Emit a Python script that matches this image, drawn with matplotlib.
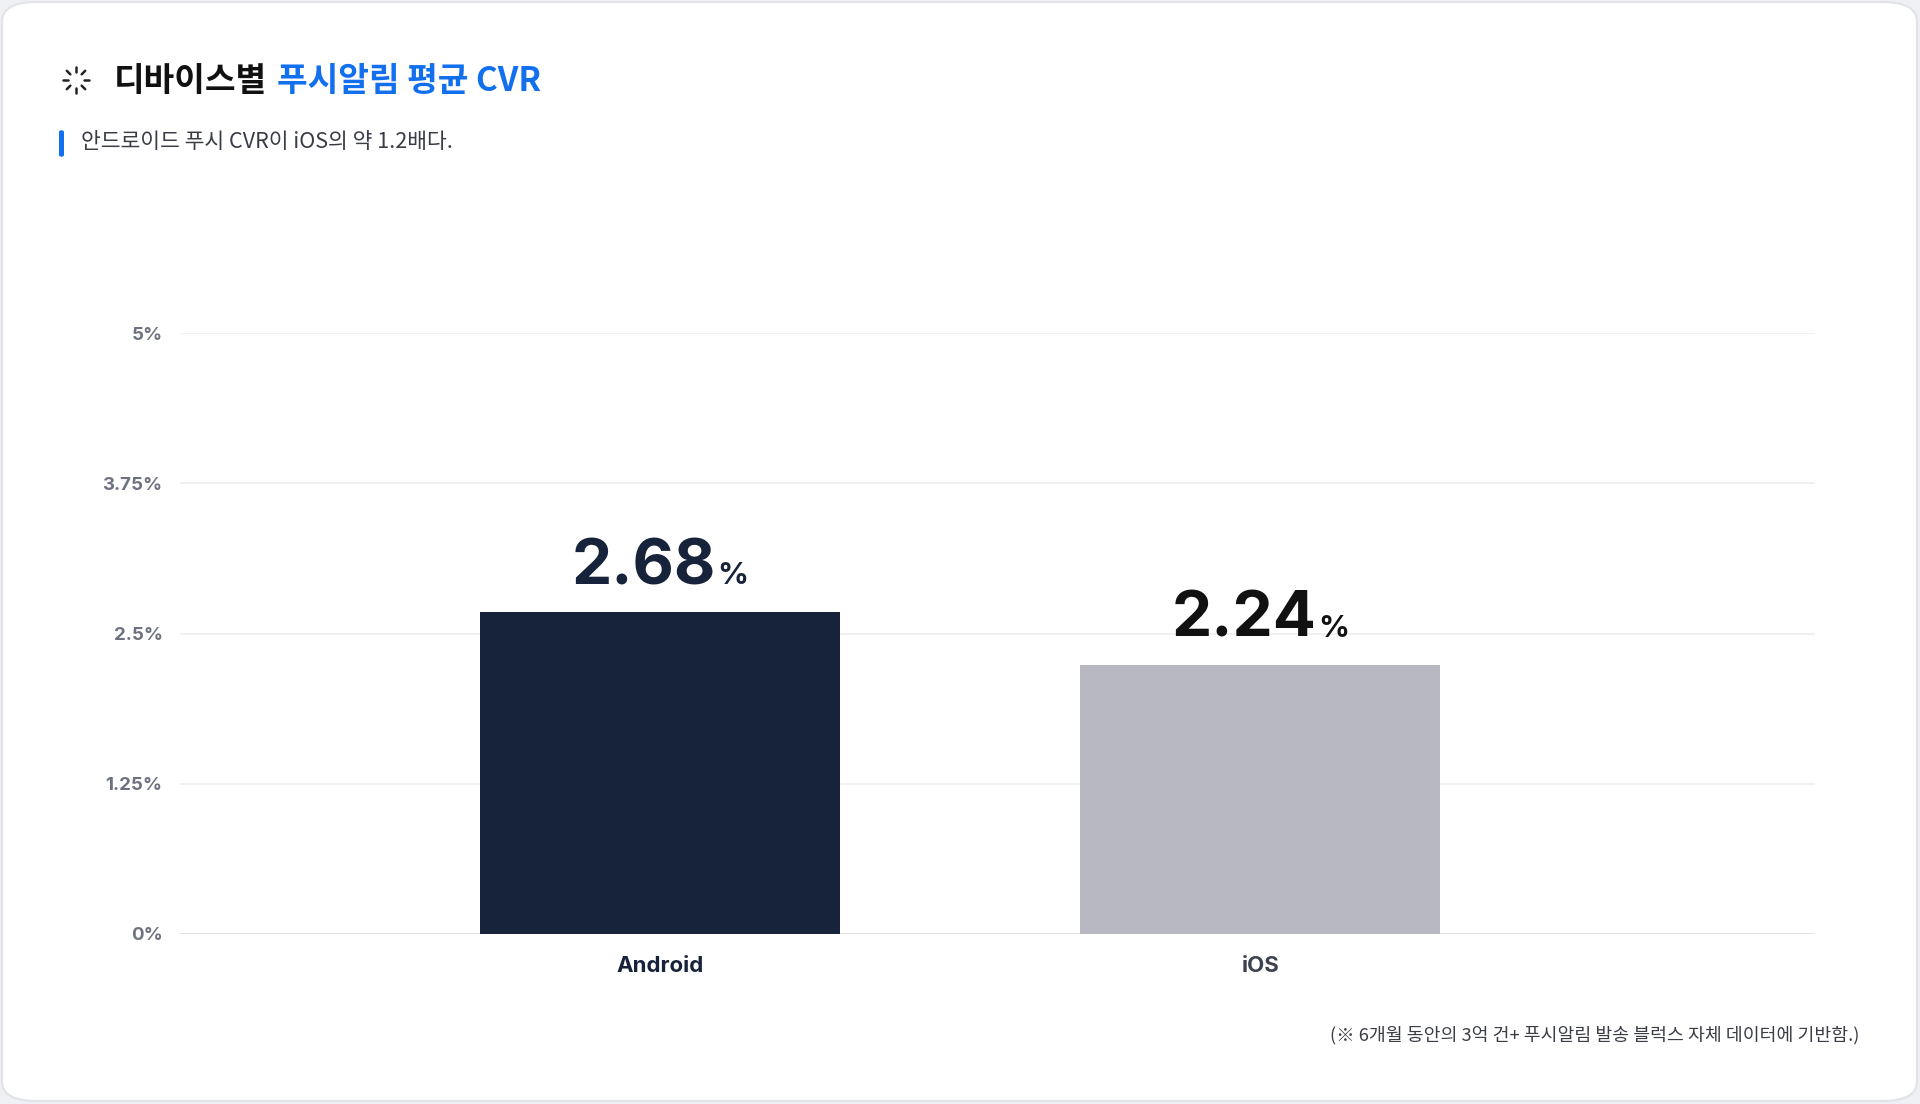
import numpy as np
import matplotlib.pyplot as plt
from matplotlib.patches import FancyBboxPatch
from matplotlib.lines import Line2D

# data
devices = ["Android", "iOS"]
cvr = [2.68, 2.24]
yticks = [0, 1.25, 2.5, 3.75, 5]
ytick_labels = ["0%", "1.25%", "2.5%", "3.75%", "5%"]

title_black = "디바이스별"
title_blue = "푸시알림 평균 CVR"
subtitle = "안드로이드 푸시 CVR이 iOS의 약 1.2배다."
footnote = "(※ 6개월 동안의 3억 건+ 푸시알림 발송 블럭스 자체 데이터에 기반함.)"

KR = ["Noto Sans CJK KR", "DejaVu Sans"]
NUM = ["Inter", "DejaVu Sans"]
plt.rcParams['font.family'] = KR

bar_colors = ["#17233a", "#b8b8c2"]
value_colors = ["#17233a", "#111111"]
label_colors = ["#17233a", "#3c4150"]
BLUE = "#1270ee"

W, H = 1920, 1104
fig = plt.figure(figsize=(W / 100, H / 100), dpi=100)
fig.patch.set_facecolor("#eef0f3")

def fx(px):
    return px / W

def fy(py):
    return 1 - py / H

# card background
card = FancyBboxPatch((fx(2), fy(1101)), fx(1915), fy(2) - fy(1101),
                      boxstyle="round,pad=0,rounding_size=0.018",
                      transform=fig.transFigure, facecolor="white",
                      edgecolor="#e1e3e8", linewidth=1.5, zorder=-10)
fig.patches.append(card)

ax = fig.add_axes([fx(180), fy(934), fx(1815) - fx(180), fy(333) - fy(934)])
ax.set_zorder(5)
ax.set_facecolor("none")
x = np.arange(len(devices))
ax.bar(x, cvr, width=0.6, color=bar_colors, zorder=3)
ax.set_xlim(-0.8, 1.924)
ax.set_ylim(0, 5)
ax.set_yticks(yticks)
ax.set_yticklabels(ytick_labels)
ax.set_xticks(x)
ax.set_xticklabels(devices)
for s in ax.spines.values():
    s.set_visible(False)
ax.tick_params(axis="both", length=0)
ax.tick_params(axis="y", pad=12.5)
ax.tick_params(axis="x", pad=15.5)
for t in ax.get_yticklabels():
    t.set_fontfamily(NUM)
    t.set_fontweight("bold")
    t.set_fontsize(13.5)
    t.set_color("#6e7180")
for t, c in zip(ax.get_xticklabels(), label_colors):
    t.set_fontfamily(NUM)
    t.set_fontweight("bold")
    t.set_fontsize(16)
    t.set_color(c)
for v in yticks:
    ax.axhline(v, color="#dcdde4" if v == 0 else "#eceef1", linewidth=1.2, zorder=1)

fig.canvas.draw()
renderer = fig.canvas.get_renderer()

# value labels: big number + small %
for xi, v, c in zip(x, cvr, value_colors):
    num = ax.annotate(f"{v:.2f}", (xi, v), xytext=(0, 20), textcoords="offset points",
                      ha="left", va="baseline", fontsize=46, fontweight="bold",
                      family=NUM, color=c)
    pct = ax.annotate("%", (xi, v), xytext=(0, 20), textcoords="offset points",
                      ha="left", va="baseline", fontsize=22, fontweight="bold",
                      family=NUM, color=c)
    w1 = num.get_window_extent(renderer).width
    w2 = pct.get_window_extent(renderer).width
    gap = 1
    total = w1 + gap + w2
    num.set_position((-total / 2 * 72 / 100, 20))
    pct.set_position(((-total / 2 + w1 + gap) * 72 / 100, 20))

# title
t1 = fig.text(fx(114), fy(82), title_black, fontsize=24, fontweight="bold",
              color="#111111", va="center", ha="left")
fig.canvas.draw()
bb = t1.get_window_extent(renderer)
fig.text(fx(bb.x1 + 10), fy(82), title_blue, fontsize=24, fontweight="bold",
         color=BLUE, va="center", ha="left")

# spinner icon
cx, cy, r0, r1 = 76, 80, 8, 13
for k in range(8):
    a = np.pi / 2 + k * np.pi / 4
    fig.lines.append(Line2D([fx(cx + r0 * np.cos(a)), fx(cx + r1 * np.cos(a))],
                            [fy(cy - r0 * np.sin(a)), fy(cy - r1 * np.sin(a))],
                            transform=fig.transFigure, color="#222222",
                            linewidth=1.8, solid_capstyle="round"))

# subtitle with blue bar
fig.patches.append(FancyBboxPatch((fx(59), fy(157)), fx(5), fy(130) - fy(157),
                                  boxstyle="round,pad=0,rounding_size=0.002",
                                  transform=fig.transFigure, facecolor=BLUE,
                                  edgecolor="none"))
fig.text(fx(81), fy(142), subtitle, fontsize=15.5, fontweight="medium",
         color="#3a3d46", va="center", ha="left")

# footnote
fig.text(fx(1859), fy(1035), footnote, fontsize=13.2, fontweight="medium",
         color="#3a3d46", va="center", ha="right")

fig.savefig("out.png", dpi=100, facecolor=fig.get_facecolor())
